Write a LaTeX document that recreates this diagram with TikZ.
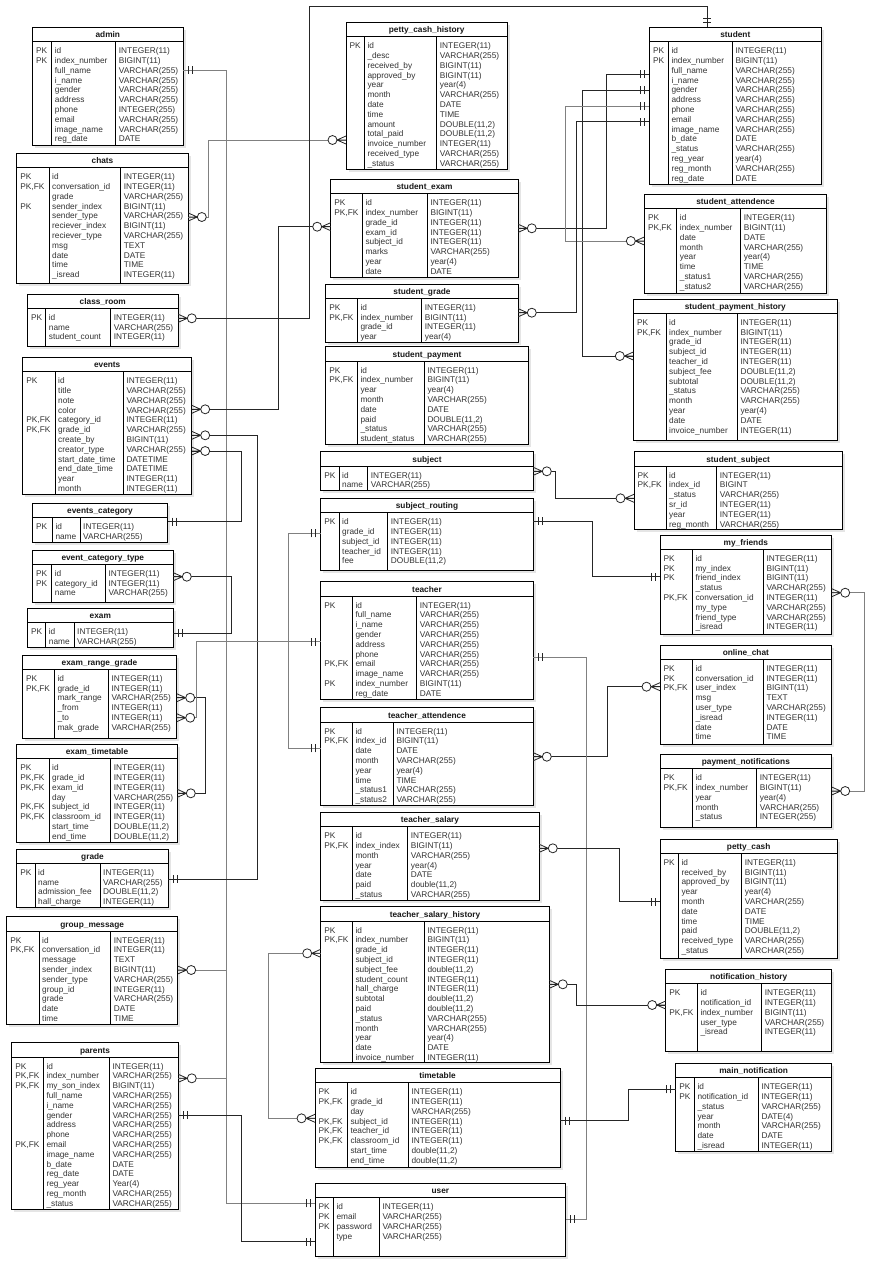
\documentclass[tikz,border=0pt]{standalone}
\usepackage{fontspec}
\setmainfont{Liberation Sans}
\tikzset{
  tbox/.style={draw=black, line width=0.9pt, fill=white, inner sep=0pt, outer sep=0pt},
  colsep/.style={draw=black, line width=0.8pt},
  ttl/.style={anchor=base, inner sep=0pt, font=\bfseries\fontsize{8.3}{10}\selectfont, text=black!90},
  cell/.style={anchor=base west, inner sep=0pt, font=\fontsize{8.3}{10}\selectfont, text=black!80},
  rel/.style={draw=black!85, line width=0.8pt},
  relg/.style={draw=black!50, line width=0.8pt},
  mk/.style={draw=black!85, line width=0.8pt},
  tshadow/.style={fill=black!10},
}
\catcode`\_=12
% table frame: name, x1, y1, x2, y2, first separator, second separator, title
\newcommand\ertbl[8]{%
  \def\tblx{#2}\def\tbly{#3}\def\tbla{#6}\def\tblb{#7}%
  \fill[tshadow] (#2+2.5,#3+2.5) rectangle (#4+2.5,#5+2.5);
  \node[tbox, anchor=north west, minimum width={(#4-#2)*1pt}, minimum height={(#5-#3)*1pt}] (#1) at (#2,#3) {};
  \draw[colsep] (#2,#3+14.5) -- (#4,#3+14.5) (#6,#3+14.5) -- (#6,#5) (#7,#3+14.5) -- (#7,#5);
  \node[ttl] at ({(#2+#4)/2},#3+10.3) {#8};
}
% table rows: keys, column names, column types
\newcommand\ercols[3]{%
  \foreach \v [count=\i] in {#1} \node[cell] at (\tblx+3.5,\tbly+16.5+9.8*\i) {\v};
  \foreach \v [count=\i] in {#2} \node[cell] at (\tbla+3,\tbly+16.5+9.8*\i) {\v};
  \foreach \v [count=\i] in {#3} \node[cell] at (\tblb+3,\tbly+16.5+9.8*\i) {\v};
}
% mandatory-one end mark and zero-or-many end mark
\newcommand\mkone[2]{\draw[mk,shift={#1},rotate=#2] (5,-4) -- (5,4) (9,-4) -- (9,4);}
\newcommand\mkmany[2]{%
  \draw[mk,shift={#1},rotate=#2] (0,-4) -- (9,0) -- (0,4) (0,0) -- (9,0);
  \draw[mk,fill=white,shift={#1},rotate=#2] (13.5,0) circle[radius=4.5pt];
}
\begin{document}
\begin{tikzpicture}[x=1pt,y=-1pt]
\fill[white] (0,0) rectangle (893,1280);
\useasboundingbox (0,0) rectangle (893,1280);

% ---------- left column ----------
\ertbl{admin}{32.3}{27.3}{183.3}{145}{51.7}{115.7}{admin}
\ercols{PK,PK}{id,index_number,full_name,i_name,gender,address,phone,email,image_name,reg_date}
{INTEGER(11),BIGINT(11),VARCHAR(255),VARCHAR(255),VARCHAR(255),VARCHAR(255),INTEGER(255),VARCHAR(255),VARCHAR(255),DATE}

\ertbl{chats}{16.7}{153.3}{188.3}{283.3}{49}{120.7}{chats}
\ercols{PK,{PK,FK},{},PK}{id,conversation_id,grade,sender_index,sender_type,reciever_index,reciever_type,msg,date,time,_isread}
{INTEGER(11),INTEGER(11),VARCHAR(255),BIGINT(11),VARCHAR(255),BIGINT(11),VARCHAR(255),TEXT,DATE,TIME,INTEGER(11)}

\ertbl{class_room}{27.3}{294}{178.3}{346}{45.7}{110.7}{class_room}
\ercols{PK}{id,name,student_count}{INTEGER(11),VARCHAR(255),INTEGER(11)}

\ertbl{events}{22.7}{357.3}{191.7}{494}{55}{123.3}{events}
\ercols{PK,{},{},{},{PK,FK},{PK,FK}}{id,title,note,color,category_id,grade_id,create_by,creator_type,start_date_time,end_date_time,year,month}
{INTEGER(11),VARCHAR(255),VARCHAR(255),VARCHAR(255),INTEGER(11),VARCHAR(255),BIGINT(11),VARCHAR(255),DATETIME,DATETIME,INTEGER(11),INTEGER(11)}

\ertbl{events_category}{32.3}{503.3}{167.7}{542.3}{52.3}{80}{events_category}
\ercols{PK}{id,name}{INTEGER(11),VARCHAR(255)}

\ertbl{event_category_type}{32.3}{550}{173.3}{602.7}{51.7}{105.3}{event_category_type}
\ercols{PK,PK}{id,category_id,name}{INTEGER(11),INTEGER(11),VARCHAR(255)}

\ertbl{exam}{27.3}{608.3}{173.3}{647.3}{45.7}{74}{exam}
\ercols{PK}{id,name}{INTEGER(11),VARCHAR(255)}

\ertbl{exam_range_grade}{22.3}{655}{176.7}{738.3}{54.3}{108.3}{exam_range_grade}
\ercols{PK,{PK,FK}}{id,grade_id,mark_range,_from,_to,mak_grade}
{INTEGER(11),INTEGER(11),VARCHAR(255),INTEGER(11),INTEGER(11),VARCHAR(255)}

\ertbl{exam_timetable}{16.7}{744.3}{177.3}{842.3}{49}{110.7}{exam_timetable}
\ercols{PK,{PK,FK},{PK,FK},{},{PK,FK},{PK,FK}}{id,grade_id,exam_id,day,subject_id,classroom_id,start_time,end_time}
{INTEGER(11),INTEGER(11),INTEGER(11),VARCHAR(255),INTEGER(11),INTEGER(11),{DOUBLE(11,2)},{DOUBLE(11,2)}}

\ertbl{grade}{16.7}{849}{168.3}{907.3}{35}{100}{grade}
\ercols{PK}{id,name,admission_fee,hall_charge}{INTEGER(11),VARCHAR(255),{DOUBLE(11,2)},INTEGER(11)}

\ertbl{group_message}{6.7}{916.7}{177.7}{1024.3}{39}{110.7}{group_message}
\ercols{PK,{PK,FK}}{id,conversation_id,message,sender_index,sender_type,group_id,grade,date,time}
{INTEGER(11),INTEGER(11),TEXT,BIGINT(11),VARCHAR(255),INTEGER(11),VARCHAR(255),DATE,TIME}

\ertbl{parents}{11.7}{1042.7}{178.3}{1209.3}{43.3}{109.3}{parents}
\ercols{PK,{PK,FK},{PK,FK},{},{},{},{},{},{PK,FK}}{id,index_number,my_son_index,full_name,i_name,gender,address,phone,email,image_name,b_date,reg_date,reg_year,reg_month,_status}
{INTEGER(11),VARCHAR(255),BIGINT(11),VARCHAR(255),VARCHAR(255),VARCHAR(255),VARCHAR(255),VARCHAR(255),VARCHAR(255),VARCHAR(255),DATE,DATE,Year(4),VARCHAR(255),VARCHAR(255)}

% ---------- middle column ----------
\ertbl{petty_cash_history}{346}{22.3}{507.3}{169.3}{364.3}{436.7}{petty_cash_history}
\ercols{PK}{id,_desc,received_by,approved_by,year,month,date,time,amount,total_paid,invoice_number,received_type,_status}
{INTEGER(11),VARCHAR(255),BIGINT(11),BIGINT(11),year(4),VARCHAR(255),DATE,TIME,{DOUBLE(11,2)},{DOUBLE(11,2)},INTEGER(11),VARCHAR(255),VARCHAR(255)}

\ertbl{student_exam}{330.7}{179.3}{518.3}{277.7}{362.3}{427.3}{student_exam}
\ercols{PK,{PK,FK}}{id,index_number,grade_id,exam_id,subject_id,marks,year,date}
{INTEGER(11),BIGINT(11),INTEGER(11),INTEGER(11),INTEGER(11),VARCHAR(255),year(4),DATE}

\ertbl{student_grade}{325.7}{284}{518.3}{342.3}{357.3}{421.7}{student_grade}
\ercols{PK,{PK,FK}}{id,index_number,grade_id,year}{INTEGER(11),BIGINT(11),INTEGER(11),year(4)}

\ertbl{student_payment}{325.7}{346.7}{528.3}{444.3}{357.3}{424.3}{student_payment}
\ercols{PK,{PK,FK}}{id,index_number,year,month,date,paid,_status,student_status}
{INTEGER(11),BIGINT(11),year(4),VARCHAR(255),DATE,{DOUBLE(11,2)},VARCHAR(255),VARCHAR(255)}

\ertbl{subject}{320.7}{451.7}{533.3}{490}{339}{367.7}{subject}
\ercols{PK}{id,name}{INTEGER(11),VARCHAR(255)}

\ertbl{subject_routing}{320.7}{498.3}{533.3}{570.7}{339}{387.7}{subject_routing}
\ercols{PK}{id,grade_id,subject_id,teacher_id,fee}{INTEGER(11),INTEGER(11),INTEGER(11),INTEGER(11),{DOUBLE(11,2)}}

\ertbl{teacher}{320.7}{581.7}{533.3}{699.3}{352.3}{416.7}{teacher}
\ercols{PK,{},{},{},{},{},{PK,FK},{},PK}{id,full_name,i_name,gender,address,phone,email,image_name,index_number,reg_date}
{INTEGER(11),VARCHAR(255),VARCHAR(255),VARCHAR(255),VARCHAR(255),VARCHAR(255),VARCHAR(255),VARCHAR(255),BIGINT(11),DATE}

\ertbl{teacher_attendence}{320.7}{707.7}{533.3}{805}{352.3}{393.3}{teacher_attendence}
\ercols{PK,{PK,FK}}{id,index_id,date,month,year,time,_status1,_status2}
{INTEGER(11),BIGINT(11),DATE,VARCHAR(255),year(4),TIME,VARCHAR(255),VARCHAR(255)}

\ertbl{teacher_salary}{320.7}{812.3}{539.3}{900}{352.3}{407.7}{teacher_salary}
\ercols{PK,{PK,FK}}{id,index_index,month,year,date,paid,_status}
{INTEGER(11),BIGINT(11),VARCHAR(255),year(4),DATE,{double(11,2)},VARCHAR(255)}

\ertbl{teacher_salary_history}{320.7}{906.7}{549.3}{1062.7}{352.3}{424.3}{teacher_salary_history}
\ercols{PK,{PK,FK}}{id,index_number,grade_id,subject_id,subject_fee,student_count,hall_charge,subtotal,paid,_status,month,year,date,invoice_number}
{INTEGER(11),BIGINT(11),INTEGER(11),INTEGER(11),{double(11,2)},INTEGER(11),INTEGER(11),{double(11,2)},{double(11,2)},VARCHAR(255),VARCHAR(255),year(4),DATE,INTEGER(11)}

\ertbl{timetable}{315}{1068.3}{560}{1167.3}{347.3}{408.3}{timetable}
\ercols{PK,{PK,FK},{},{PK,FK},{PK,FK},{PK,FK}}{id,grade_id,day,subject_id,teacher_id,classroom_id,start_time,end_time}
{INTEGER(11),INTEGER(11),VARCHAR(255),INTEGER(11),INTEGER(11),INTEGER(11),{double(11,2)},{double(11,2)}}

\ertbl{user}{315}{1183.3}{565.7}{1256}{333.3}{379.3}{user}
\ercols{PK,PK,PK}{id,email,password,type}{INTEGER(11),VARCHAR(255),VARCHAR(255),VARCHAR(255)}

% ---------- right column ----------
\ertbl{student}{649.3}{27.3}{821.3}{184}{668.3}{732.3}{student}
\ercols{PK,PK}{id,index_number,full_name,i_name,gender,address,phone,email,image_name,b_date,_status,reg_year,reg_month,reg_date}
{INTEGER(11),BIGINT(11),VARCHAR(255),VARCHAR(255),VARCHAR(255),VARCHAR(255),VARCHAR(255),VARCHAR(255),VARCHAR(255),DATE,VARCHAR(255),year(4),VARCHAR(255),DATE}

\ertbl{student_attendence}{644.3}{194.3}{826.7}{293.3}{676.7}{740.7}{student_attendence}
\ercols{PK,{PK,FK}}{id,index_number,date,month,year,time,_status1,_status2}
{INTEGER(11),BIGINT(11),DATE,VARCHAR(255),year(4),TIME,VARCHAR(255),VARCHAR(255)}

\ertbl{student_payment_history}{633.3}{299}{837.3}{440}{666}{737.3}{student_payment_history}
\ercols{PK,{PK,FK}}{id,index_number,grade_id,subject_id,teacher_id,subject_fee,subtotal,_status,month,year,date,invoice_number}
{INTEGER(11),BIGINT(11),INTEGER(11),INTEGER(11),INTEGER(11),{DOUBLE(11,2)},{DOUBLE(11,2)},VARCHAR(255),VARCHAR(255),year(4),DATE,INTEGER(11)}

\ertbl{student_subject}{634}{451.7}{842.3}{529.3}{666}{716.7}{student_subject}
\ercols{PK,{PK,FK}}{id,index_id,_status,sr_id,year,reg_month}
{INTEGER(11),BIGINT,VARCHAR(255),INTEGER(11),INTEGER(11),VARCHAR(255)}

\ertbl{my_friends}{660}{535}{831.7}{634}{692.3}{763.3}{my_friends}
\ercols{PK,PK,PK,{},{PK,FK}}{id,my_index,friend_index,_status,conversation_id,my_type,friend_type,_isread}
{INTEGER(11),BIGINT(11),BIGINT(11),VARCHAR(255),INTEGER(11),VARCHAR(255),VARCHAR(255),INTEGER(11)}

\ertbl{online_chat}{660}{645}{831.7}{744.3}{692.3}{763.3}{online_chat}
\ercols{PK,PK,{PK,FK}}{id,conversation_id,user_index,msg,user_type,_isread,date,time}
{INTEGER(11),INTEGER(11),BIGINT(11),TEXT,VARCHAR(255),INTEGER(11),DATE,TIME}

\ertbl{payment_notifications}{660}{754.3}{831.7}{827.3}{692.3}{756.7}{payment_notifications}
\ercols{PK,{PK,FK}}{id,index_number,year,month,_status}
{INTEGER(11),BIGINT(11),year(4),VARCHAR(255),INTEGER(255)}

\ertbl{petty_cash}{660}{839}{837.3}{958.3}{678.3}{741.7}{petty_cash}
\ercols{PK}{id,received_by,approved_by,year,month,date,time,paid,received_type,_status}
{INTEGER(11),BIGINT(11),BIGINT(11),year(4),VARCHAR(255),DATE,TIME,{DOUBLE(11,2)},VARCHAR(255),VARCHAR(255)}

\ertbl{notification_history}{665.7}{969.3}{831.7}{1051.7}{697.3}{761.7}{notification_history}
\ercols{PK,{},{PK,FK}}{id,notification_id,index_number,user_type,_isread}
{INTEGER(11),INTEGER(11),BIGINT(11),VARCHAR(255),INTEGER(11)}

\ertbl{main_notification}{675.7}{1063.3}{831.7}{1151.7}{694.3}{758.3}{main_notification}
\ercols{PK,PK}{id,notification_id,_status,year,month,date,_isread}
{INTEGER(11),INTEGER(11),VARCHAR(255),DATE(4),VARCHAR(255),DATE,INTEGER(11)}

% ---------- relationships ----------
\draw[relg] (admin.east |- 0,70.3) -- (226.7,70.3) -- (226.7,1203.3) -- (user.west |- 0,1203.3);
\draw[relg] (group_message.east |- 0,970) -- (226.7,970);
\draw[relg] (parents.east |- 0,1078.3) -- (226.7,1078.3);
\draw[relg] (chats.east |- 0,217) -- (208.3,217) -- (208.3,140) -- (petty_cash_history.west |- 0,140);
\draw[rel] (class_room.east |- 0,318.3) -- (309.3,318.3) -- (309.3,6.7) -- (707.3,6.7) -- (student.north -| 707.3,0);
\draw[rel] (events.east |- 0,409.3) -- (278.3,409.3) -- (278.3,226.7) -- (student_exam.west |- 0,226.7);
\draw[rel] (events.east |- 0,435.3) -- (257.7,435.3) -- (257.7,879.3) -- (grade.east |- 0,879.3);
\draw[rel] (events.east |- 0,451) -- (241.7,451) -- (241.7,521.7) -- (events_category.east |- 0,521.7);
\draw[rel] (event_category_type.east |- 0,576.7) -- (231.7,576.7) -- (231.7,633.3) -- (exam.east |- 0,633.3);
\draw[rel] (exam_range_grade.east |- 0,697.7) -- (205,697.7) -- (205,793.3) -- (exam_timetable.east |- 0,793.3);
\draw[relg] (exam_range_grade.east |- 0,717.7) -- (196.7,717.7) -- (196.7,641.7) -- (teacher.west |- 0,641.7);
\draw[relg] (subject_routing.west |- 0,533.3) -- (288.3,533.3) -- (288.3,748.3) -- (teacher_attendence.west |- 0,748.3);
\draw[rel] (student_exam.east |- 0,228.3) -- (606.7,228.3) -- (606.7,74) -- (student.west |- 0,74);
\draw[rel] (student_payment_history.west |- 0,356) -- (582.5,356) -- (582.5,90) -- (student.west |- 0,90);
\draw[relg] (student_attendence.west |- 0,241) -- (565.7,241) -- (565.7,106) -- (student.west |- 0,106);
\draw[rel] (student_grade.east |- 0,312.7) -- (576.7,312.7) -- (576.7,121.7) -- (student.west |- 0,121.7);
\draw[rel] (subject.east |- 0,471.3) -- (555,471.3) -- (555,498.3) -- (student_subject.west |- 0,498.3);
\draw[rel] (subject_routing.east |- 0,521) -- (592.5,521) -- (592.5,576.7) -- (my_friends.west |- 0,576.7);
\draw[relg] (my_friends.east |- 0,592.7) -- (864,592.7) -- (864,791) -- (payment_notifications.east |- 0,791);
\draw[rel] (teacher_attendence.east |- 0,756.7) -- (607.3,756.7) -- (607.3,686.7) -- (online_chat.west |- 0,686.7);
\draw[relg] (teacher.east |- 0,657.3) -- (586.7,657.3) -- (586.7,1219.3) -- (user.east |- 0,1219.3);
\draw[rel] (teacher_salary.east |- 0,848.3) -- (619.3,848.3) -- (619.3,901.7) -- (petty_cash.west |- 0,901.7);
\draw[rel] (teacher_salary_history.east |- 0,984.3) -- (576.7,984.3) -- (576.7,1005) -- (notification_history.west |- 0,1005);
\draw[relg] (teacher_salary_history.west |- 0,953.3) -- (268.3,953.3) -- (268.3,1118.3) -- (timetable.west |- 0,1118.3);
\draw[rel] (timetable.east |- 0,1120.5) -- (628.3,1120.5) -- (628.3,1089.3) -- (main_notification.west |- 0,1089.3);
\draw[rel] (parents.east |- 0,1115) -- (241.7,1115) -- (241.7,1241.7) -- (user.west |- 0,1241.7);

% ---------- end marks ----------
\mkone{(admin.east |- 0,70.3)}{0}
\mkmany{(group_message.east |- 0,970)}{0}
\mkmany{(parents.east |- 0,1078.3)}{0}
\mkone{(user.west |- 0,1203.3)}{180}
\mkmany{(chats.east |- 0,217)}{0}
\mkmany{(petty_cash_history.west |- 0,140)}{180}
\mkmany{(class_room.east |- 0,318.3)}{0}
\mkone{(student.north -| 707.3,0)}{90}
\mkmany{(events.east |- 0,409.3)}{0}
\mkmany{(student_exam.west |- 0,226.7)}{180}
\mkmany{(events.east |- 0,435.3)}{0}
\mkone{(grade.east |- 0,879.3)}{0}
\mkmany{(events.east |- 0,451)}{0}
\mkone{(events_category.east |- 0,521.7)}{0}
\mkmany{(event_category_type.east |- 0,576.7)}{0}
\mkone{(exam.east |- 0,633.3)}{0}
\mkmany{(exam_range_grade.east |- 0,697.7)}{0}
\mkmany{(exam_timetable.east |- 0,793.3)}{0}
\mkmany{(exam_range_grade.east |- 0,717.7)}{0}
\mkone{(teacher.west |- 0,641.7)}{180}
\mkone{(subject_routing.west |- 0,533.3)}{180}
\mkone{(teacher_attendence.west |- 0,748.3)}{180}
\mkmany{(student_exam.east |- 0,228.3)}{0}
\mkone{(student.west |- 0,74)}{180}
\mkmany{(student_payment_history.west |- 0,356)}{180}
\mkone{(student.west |- 0,90)}{180}
\mkmany{(student_attendence.west |- 0,241)}{180}
\mkone{(student.west |- 0,106)}{180}
\mkmany{(student_grade.east |- 0,312.7)}{0}
\mkone{(student.west |- 0,121.7)}{180}
\mkmany{(subject.east |- 0,471.3)}{0}
\mkmany{(student_subject.west |- 0,498.3)}{180}
\mkone{(subject_routing.east |- 0,521)}{0}
\mkone{(my_friends.west |- 0,576.7)}{180}
\mkmany{(my_friends.east |- 0,592.7)}{0}
\mkmany{(payment_notifications.east |- 0,791)}{0}
\mkmany{(teacher_attendence.east |- 0,756.7)}{0}
\mkmany{(online_chat.west |- 0,686.7)}{180}
\mkone{(teacher.east |- 0,657.3)}{0}
\mkone{(user.east |- 0,1219.3)}{0}
\mkmany{(teacher_salary.east |- 0,848.3)}{0}
\mkone{(petty_cash.west |- 0,901.7)}{180}
\mkmany{(teacher_salary_history.east |- 0,984.3)}{0}
\mkmany{(notification_history.west |- 0,1005)}{180}
\mkmany{(teacher_salary_history.west |- 0,953.3)}{180}
\mkmany{(timetable.west |- 0,1118.3)}{180}
\mkone{(timetable.east |- 0,1120.5)}{0}
\mkone{(main_notification.west |- 0,1089.3)}{180}
\mkone{(parents.east |- 0,1115)}{0}
\mkone{(user.west |- 0,1241.7)}{180}
\end{tikzpicture}
\end{document}
